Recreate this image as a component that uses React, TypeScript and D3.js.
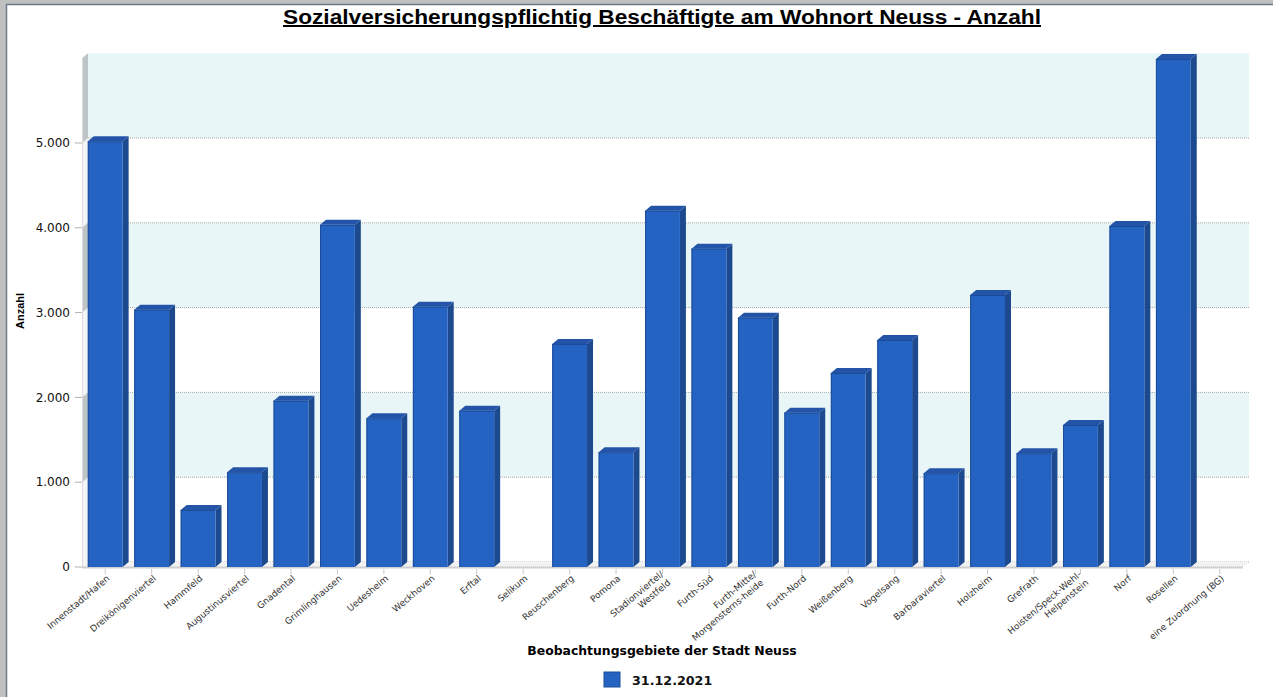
import React from "react";
import * as d3 from "d3";

const categories: string[] = [
  "Innenstadt/Hafen",
  "Dreikönigenviertel",
  "Hammfeld",
  "Augustinusviertel",
  "Gnadental",
  "Grimlinghausen",
  "Uedesheim",
  "Weckhoven",
  "Erftal",
  "Selikum",
  "Reuschenberg",
  "Pomona",
  "Stadionviertel/\nWestfeld",
  "Furth-Süd",
  "Furth-Mitte/\nMorgensterns-heide",
  "Furth-Nord",
  "Weißenberg",
  "Vogelsang",
  "Barbaraviertel",
  "Holzheim",
  "Grefrath",
  "Hoisten/Speck-Wehl-\nHelpenstein",
  "Norf",
  "Rosellen",
  "eine Zuordnung (BG)",
];

const values2021: number[] = [
  5020, 3035, 672, 1117, 1961, 4035, 1753, 3070, 1843, 0, 2630, 1353, 4202,
  3754, 2940, 1820, 2288, 2677, 1105, 3208, 1341, 1675, 4021, 5990, 0,
];

const yTicks: number[] = [0, 1000, 2000, 3000, 4000, 5000];
const yTickLabels: string[] = ["0", "1.000", "2.000", "3.000", "4.000", "5.000"];
const bandRanges: [number, number][] = [
  [1000, 2000],
  [3000, 4000],
  [5000, 6000],
];

const title = "Sozialversicherungspflichtig Beschäftigte am Wohnort Neuss - Anzahl";
const xTitle = "Beobachtungsgebiete der Stadt Neuss";
const yTitle = "Anzahl";
const seriesName = "31.12.2021";

const W = 1273;
const H = 697;
const X0 = 82;
const X1 = 1243;
const DX = 6;
const DY = -5;

const FRONT = "#2463c1";
const EDGE = "#1c4c98";
const SIDE = "#1d4a8e";
const TOP = "#2454a8";

export default function App() {
  const x = d3
    .scaleBand<string>()
    .domain(categories)
    .range([X0, X1])
    .paddingInner(0.25)
    .paddingOuter(0.125);
  const y = d3.scaleLinear().domain([0, 6000]).range([567, 58.2]);
  const bw = x.bandwidth();

  const y0 = y(0);
  const yTop = y(6000);

  return (
    <div style={{ position: "fixed", left: 0, top: 0, width: W, height: H, background: "#fff" }}>
      <svg width={W} height={H} style={{ display: "block" }}>
        {/* window frame */}
        <rect x={0} y={0} width={W} height={4} fill="#c0c0c0" />
        <rect x={0} y={0} width={6} height={H} fill="#c0c0c0" />
        <line x1={6.5} y1={4} x2={6.5} y2={H} stroke="#6c7a88" strokeWidth={1.5} />
        <line x1={6} y1={4.5} x2={W} y2={4.5} stroke="#6c7a88" strokeWidth={1.5} />

        {/* title */}
        <text
          x={662}
          y={24}
          textAnchor="middle"
          fontFamily="Liberation Sans, Arial, sans-serif"
          fontWeight="bold"
          fontSize={20}
          textLength={758}
          lengthAdjust="spacingAndGlyphs"
          textDecoration="underline"
          fill="#000"
        >
          {title}
        </text>

        {/* back wall bands */}
        {bandRanges.map(([a, b], i) => (
          <rect
            key={"band" + i}
            x={X0 + DX}
            y={y(b) + DY}
            width={X1 - X0}
            height={y(a) - y(b)}
            fill="#e8f6f7"
          />
        ))}
        {/* left wall */}
        <polygon
          points={`${X0},${yTop} ${X0 + DX},${yTop + DY} ${X0 + DX},${y0 + DY} ${X0},${y0}`}
          fill="#f4f6f6"
        />
        {bandRanges.map(([a, b], i) => (
          <polygon
            key={"lw" + i}
            points={`${X0},${y(b)} ${X0 + DX},${y(b) + DY} ${X0 + DX},${y(a) + DY} ${X0},${y(a)}`}
            fill="#bec5c6"
          />
        ))}
        {/* grid lines */}
        {yTicks.map((t) => (
          <line
            key={"g" + t}
            x1={X0 + DX}
            x2={X1 + DX}
            y1={y(t) + DY}
            y2={y(t) + DY}
            stroke="#a8a8a8"
            strokeWidth={1}
            strokeDasharray="1,1"
          />
        ))}
        {/* floor */}
        <polygon
          points={`${X0},${y0} ${X0 + DX},${y0 + DY} ${X1 + DX},${y0 + DY} ${X1},${y0}`}
          fill="#f2f2f2"
        />
        <line x1={X0} x2={X1} y1={y0 + 0.5} y2={y0 + 0.5} stroke="#cfcfcf" strokeWidth={2} />
        <line x1={X0 + 0.5} x2={X0 + 0.5} y1={yTop} y2={y0} stroke="#dcdcdc" strokeWidth={1} />

        {/* y ticks */}
        {yTicks.map((t, i) => (
          <g key={"yt" + t}>
            <line x1={X0 - 7} x2={X0} y1={y(t)} y2={y(t)} stroke="#b0b0b0" />
            <text
              x={70}
              y={y(t)}
              dy="0.35em"
              textAnchor="end"
              fontFamily="DejaVu Sans, Verdana, sans-serif"
              fontSize={12}
              fill="#111"
            >
              {yTickLabels[i]}
            </text>
          </g>
        ))}

        {/* bars */}
        {categories.map((c, i) => {
          const v = values2021[i];
          if (!v) return null;
          const bx = x(c) as number;
          const by = y(v);
          const h = y0 - by;
          return (
            <g key={"bar" + i}>
              <polygon
                points={`${bx + bw},${by} ${bx + bw + DX},${by + DY} ${bx + bw + DX},${y0 + DY} ${bx + bw},${y0}`}
                fill={SIDE}
              />
              <polygon
                points={`${bx},${by} ${bx + DX},${by + DY} ${bx + bw + DX},${by + DY} ${bx + bw},${by}`}
                fill={TOP}
              />
              <rect x={bx} y={by} width={bw} height={h} fill={FRONT} />
              <line x1={bx + 0.5} x2={bx + 0.5} y1={by} y2={y0} stroke={EDGE} strokeWidth={1} />
              <line x1={bx} x2={bx + bw} y1={by + 0.5} y2={by + 0.5} stroke={EDGE} strokeWidth={1} />
            </g>
          );
        })}

        {/* category ticks and labels */}
        {categories.map((c, i) => {
          const cx = (x(c) as number) + bw / 2;
          const lines = c.split("\n");
          const n = lines.length;
          return (
            <g key={"xl" + i}>
              <line x1={cx} x2={cx} y1={y0 + 2} y2={y0 + 7} stroke="#c8c8c8" />
              <g transform={`translate(${cx + 3},${y0 + 10}) rotate(-40)`}>
                {lines.map((ln, j) => (
                  <text
                    key={j}
                    x={0}
                    y={(j - (n - 1) / 2) * 11}
                    dy="0.35em"
                    textAnchor="end"
                    fontFamily="DejaVu Sans, Verdana, sans-serif"
                    fontSize={9}
                    fill="#333"
                  >
                    {ln}
                  </text>
                ))}
              </g>
            </g>
          );
        })}

        {/* axis titles */}
        <text
          x={662}
          y={655}
          textAnchor="middle"
          fontFamily="DejaVu Sans, Verdana, sans-serif"
          fontWeight="bold"
          fontSize={12.4}
          fill="#000"
        >
          {xTitle}
        </text>
        <text
          transform={`translate(24,311) rotate(-90)`}
          textAnchor="middle"
          fontFamily="Liberation Sans, Arial, sans-serif"
          fontWeight="bold"
          fontSize={11}
          fill="#000"
        >
          {yTitle}
        </text>

        {/* legend */}
        <rect x={604} y={672} width={16} height={15} fill={FRONT} stroke={EDGE} strokeWidth={1} />
        <text
          x={632}
          y={685}
          fontFamily="DejaVu Sans, Verdana, sans-serif"
          fontWeight="bold"
          fontSize={12.7}
          fill="#111"
        >
          {seriesName}
        </text>
      </svg>
    </div>
  );
}
